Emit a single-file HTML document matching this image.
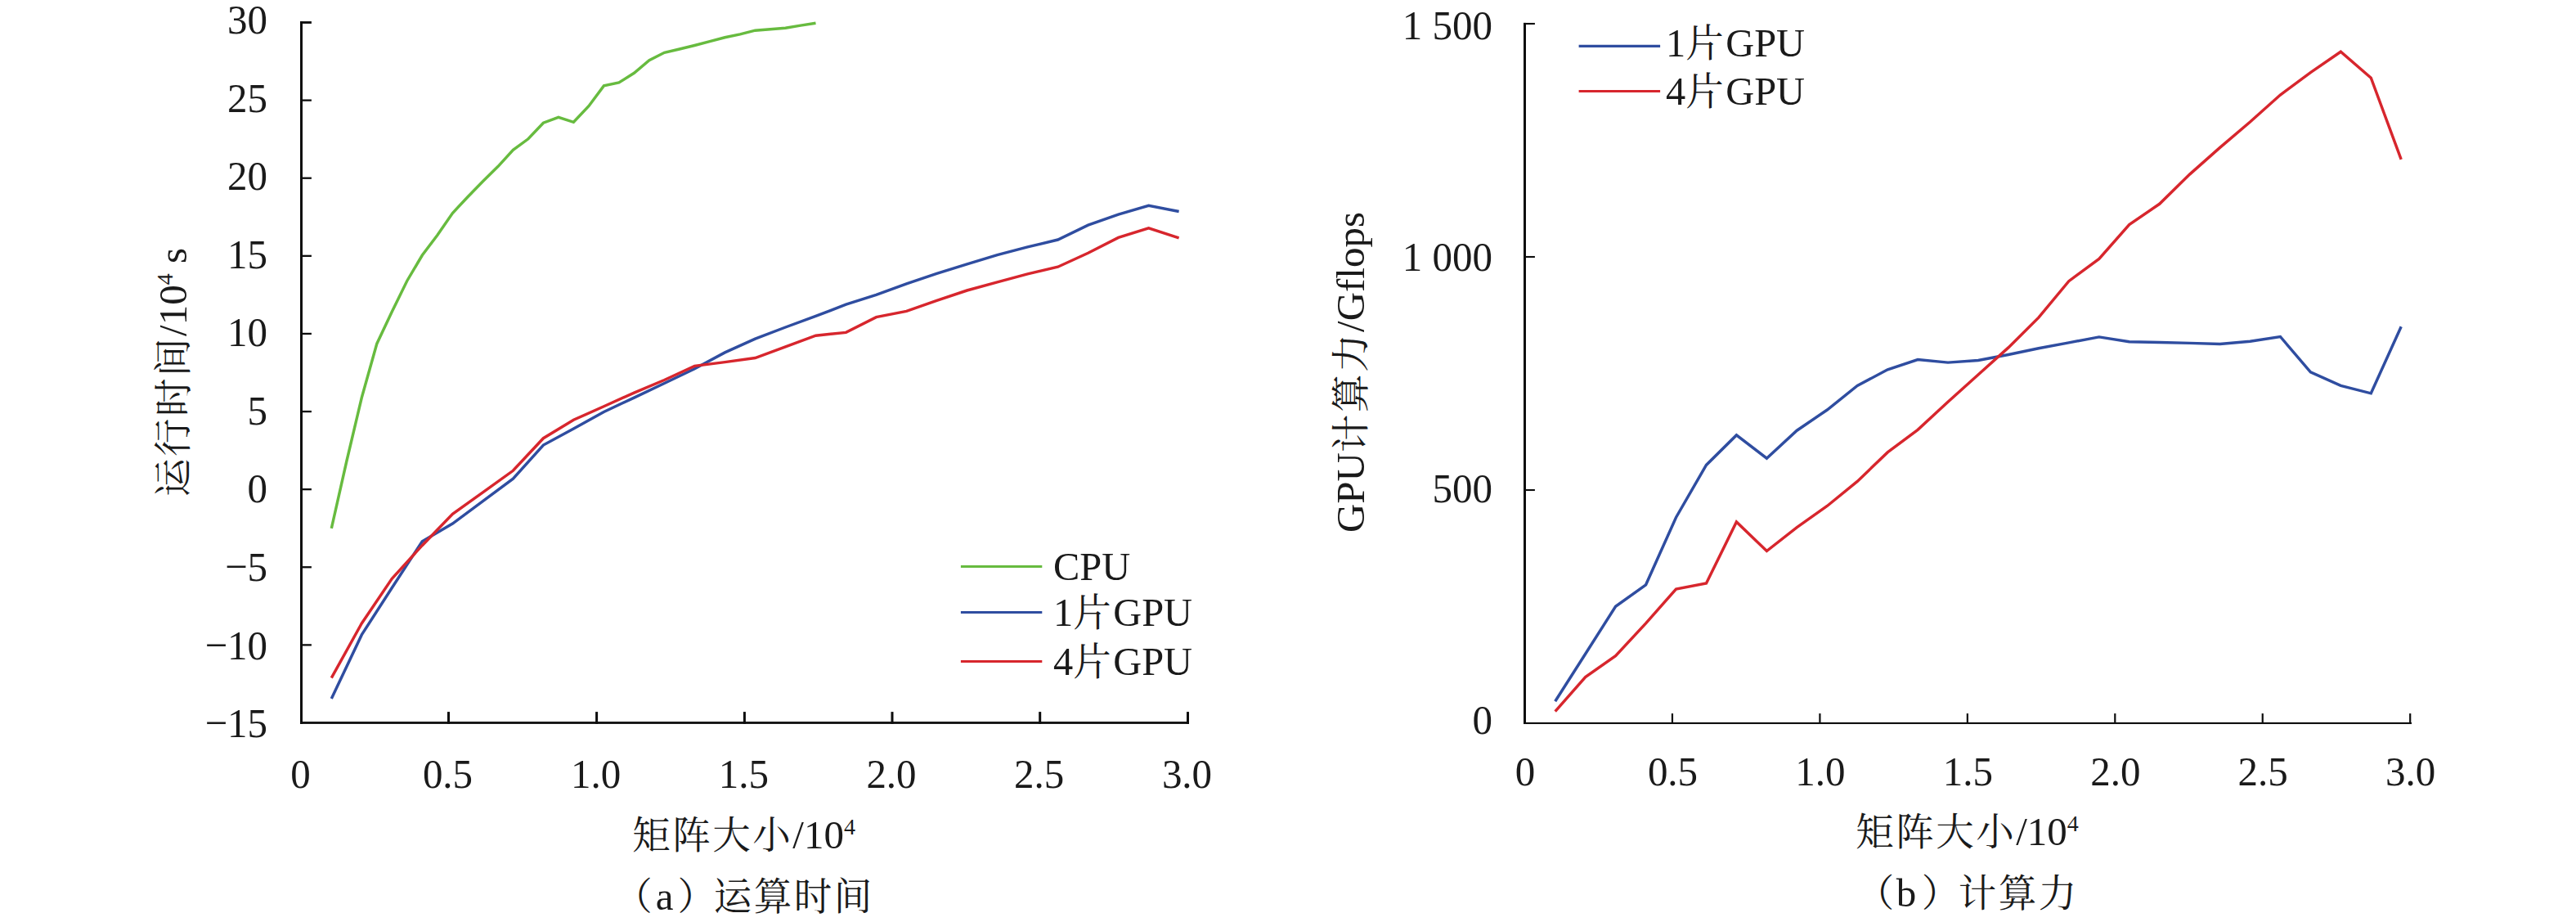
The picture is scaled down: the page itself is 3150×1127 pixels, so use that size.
<!DOCTYPE html>
<html lang="zh-CN">
<head>
<meta charset="utf-8">
<title>GPU 运算时间与计算力</title>
<style>
html,body{margin:0;padding:0;background:#fff;}
body{width:3150px;height:1127px;overflow:hidden;}
svg{display:block;}
text{font-family:"Liberation Serif", "Noto Serif CJK SC", serif;font-size:49px;fill:#1a1a1a;}
.sup{font-size:28px;}
.lg{font-size:48.4px;}
.c{font-size:46.5px;letter-spacing:2.5px;}
</style>
</head>
<body>
<svg width="3150" height="1127" viewBox="0 0 3150 1127">
<rect x="0" y="0" width="3150" height="1127" fill="#ffffff"/>
<!-- left chart axes -->
<rect x="367.00" y="26.06" width="3.00" height="858.84" fill="#0d0d0d"/>
<rect x="367.00" y="882.10" width="1087.00" height="2.80" fill="#0d0d0d"/>
<rect x="367.00" y="26.06" width="13.90" height="2.84" fill="#0d0d0d"/>
<text transform="translate(327.0,40.9) scale(1,1.05)" text-anchor="end">30</text>
<rect x="367.00" y="121.46" width="13.90" height="2.30" fill="#0d0d0d"/>
<text transform="translate(327.0,136.5) scale(1,1.05)" text-anchor="end">25</text>
<rect x="367.00" y="216.57" width="13.90" height="2.30" fill="#0d0d0d"/>
<text transform="translate(327.0,232.1) scale(1,1.05)" text-anchor="end">20</text>
<rect x="367.00" y="311.68" width="13.90" height="2.30" fill="#0d0d0d"/>
<text transform="translate(327.0,327.7) scale(1,1.05)" text-anchor="end">15</text>
<rect x="367.00" y="406.79" width="13.90" height="2.30" fill="#0d0d0d"/>
<text transform="translate(327.0,423.3) scale(1,1.05)" text-anchor="end">10</text>
<rect x="367.00" y="501.90" width="13.90" height="2.30" fill="#0d0d0d"/>
<text transform="translate(327.0,518.9) scale(1,1.05)" text-anchor="end">5</text>
<rect x="367.00" y="597.01" width="13.90" height="2.30" fill="#0d0d0d"/>
<text transform="translate(327.0,614.4) scale(1,1.05)" text-anchor="end">0</text>
<rect x="367.00" y="692.12" width="13.90" height="2.30" fill="#0d0d0d"/>
<text transform="translate(327.0,710.0) scale(1,1.05)" text-anchor="end">−5</text>
<rect x="367.00" y="787.23" width="13.90" height="2.30" fill="#0d0d0d"/>
<text transform="translate(327.0,805.6) scale(1,1.05)" text-anchor="end">−10</text>
<text transform="translate(327.0,901.2) scale(1,1.05)" text-anchor="end">−15</text>
<text transform="translate(367.5,963.0) scale(1,1.05)" text-anchor="middle">0</text>
<rect x="547.00" y="870.10" width="3.00" height="14.80" fill="#0d0d0d"/>
<text transform="translate(547.5,963.0) scale(1,1.05)" text-anchor="middle">0.5</text>
<rect x="728.10" y="870.10" width="3.00" height="14.80" fill="#0d0d0d"/>
<text transform="translate(728.6,963.0) scale(1,1.05)" text-anchor="middle">1.0</text>
<rect x="908.90" y="870.10" width="3.00" height="14.80" fill="#0d0d0d"/>
<text transform="translate(909.4,963.0) scale(1,1.05)" text-anchor="middle">1.5</text>
<rect x="1089.50" y="870.10" width="3.00" height="14.80" fill="#0d0d0d"/>
<text transform="translate(1090.0,963.0) scale(1,1.05)" text-anchor="middle">2.0</text>
<rect x="1270.20" y="870.10" width="3.00" height="14.80" fill="#0d0d0d"/>
<text transform="translate(1270.7,963.0) scale(1,1.05)" text-anchor="middle">2.5</text>
<rect x="1451.00" y="870.10" width="3.00" height="14.80" fill="#0d0d0d"/>
<text transform="translate(1451.5,963.0) scale(1,1.05)" text-anchor="middle">3.0</text>
<text x="909.6" y="1037.3" text-anchor="middle"><tspan class="c">矩阵大小</tspan>/10<tspan class="sup" dy="-17.3">4</tspan></text>
<text x="909.2" y="1112" text-anchor="middle"><tspan class="c" dx="0.8">（</tspan><tspan dx="1.5">a</tspan><tspan class="c" dx="5">）</tspan><tspan class="c" dx="-4.8">运算时间</tspan></text>
<text transform="translate(228.4,455) rotate(-90)" text-anchor="middle"><tspan class="c">运行时间</tspan>/10<tspan class="sup" dy="-17.3">4</tspan><tspan dy="17.3"> s</tspan></text>
<polyline points="405.3,645.8 423.8,564.0 442.3,486.0 460.8,420.2 479.3,380.9 497.8,343.2 516.3,312.0 534.8,287.6 553.4,260.5 571.9,240.7 590.4,221.7 608.9,203.6 627.4,183.3 645.9,169.8 664.4,150.2 682.9,143.4 701.4,149.3 719.9,129.7 738.4,104.9 756.9,101.0 775.4,89.3 793.9,73.7 812.4,64.3 830.9,60.0 849.4,55.5 867.9,50.6 886.4,45.8 905.0,41.9 923.5,37.2 942.0,35.8 960.5,34.2 979.0,31.1 997.5,28.2" fill="none" stroke="#67BB3F" stroke-width="3.45" stroke-linejoin="miter" stroke-linecap="butt"/>
<polyline points="405.3,854.1 442.3,775.9 479.3,718.5 516.3,661.7 553.4,640.1 590.4,612.7 627.4,585.2 664.4,544.1 701.4,524.0 738.4,503.5 775.4,486.1 812.4,468.5 849.4,450.8 886.4,430.9 923.5,414.1 960.5,400.0 997.5,386.4 1034.5,372.2 1071.5,360.4 1108.5,346.8 1145.5,334.4 1182.5,322.9 1219.5,311.6 1256.6,301.9 1293.6,293.0 1330.6,275.2 1367.6,262.1 1404.6,251.3 1441.6,258.5" fill="none" stroke="#2F4DA0" stroke-width="3.45" stroke-linejoin="miter" stroke-linecap="butt"/>
<polyline points="405.3,828.7 442.3,762.0 479.3,707.3 516.3,666.7 553.4,628.3 590.4,601.8 627.4,575.3 664.4,535.7 701.4,513.3 738.4,496.7 775.4,480.1 812.4,464.5 849.4,447.4 886.4,442.6 923.5,437.5 960.5,423.9 997.5,410.2 1034.5,406.4 1071.5,387.6 1108.5,380.4 1145.5,367.4 1182.5,355.0 1219.5,344.8 1256.6,334.8 1293.6,326.2 1330.6,309.2 1367.6,290.4 1404.6,278.9 1441.6,290.8" fill="none" stroke="#D7262D" stroke-width="3.45" stroke-linejoin="miter" stroke-linecap="butt"/>
<path d="M1174.9 692.5 H1274.3" stroke="#67BB3F" stroke-width="3.2" fill="none"/>
<text class="lg" x="1288" y="708.8">CPU</text>
<path d="M1174.9 748.5 H1274.3" stroke="#2F4DA0" stroke-width="3.2" fill="none"/>
<text class="lg" x="1288" y="764.8">1<tspan class="c">片</tspan>GPU</text>
<path d="M1174.9 808.5 H1274.3" stroke="#D7262D" stroke-width="3.2" fill="none"/>
<text class="lg" x="1288" y="824.8">4<tspan class="c">片</tspan>GPU</text>
<!-- right chart axes -->
<rect x="1863.00" y="27.90" width="3.00" height="857.10" fill="#0d0d0d"/>
<rect x="1863.00" y="882.95" width="1086.00" height="2.10" fill="#0d0d0d"/>
<rect x="1863.00" y="27.95" width="13.90" height="2.10" fill="#0d0d0d"/>
<text transform="translate(1825.0,47.8) scale(1,1.05)" text-anchor="end">1 500</text>
<rect x="1863.00" y="312.95" width="13.90" height="2.10" fill="#0d0d0d"/>
<text transform="translate(1825.0,330.7) scale(1,1.05)" text-anchor="end">1 000</text>
<rect x="1863.00" y="597.95" width="13.90" height="2.10" fill="#0d0d0d"/>
<text transform="translate(1825.0,613.6) scale(1,1.05)" text-anchor="end">500</text>
<text transform="translate(1825.0,896.5) scale(1,1.05)" text-anchor="end">0</text>
<text transform="translate(1865.0,960.3) scale(1,1.05)" text-anchor="middle">0</text>
<rect x="2043.85" y="872.10" width="2.20" height="12.90" fill="#0d0d0d"/>
<text transform="translate(2045.5,960.3) scale(1,1.05)" text-anchor="middle">0.5</text>
<rect x="2224.30" y="872.10" width="2.20" height="12.90" fill="#0d0d0d"/>
<text transform="translate(2225.9,960.3) scale(1,1.05)" text-anchor="middle">1.0</text>
<rect x="2404.75" y="872.10" width="2.20" height="12.90" fill="#0d0d0d"/>
<text transform="translate(2406.3,960.3) scale(1,1.05)" text-anchor="middle">1.5</text>
<rect x="2585.20" y="872.10" width="2.20" height="12.90" fill="#0d0d0d"/>
<text transform="translate(2586.8,960.3) scale(1,1.05)" text-anchor="middle">2.0</text>
<rect x="2765.65" y="872.10" width="2.20" height="12.90" fill="#0d0d0d"/>
<text transform="translate(2767.2,960.3) scale(1,1.05)" text-anchor="middle">2.5</text>
<rect x="2946.10" y="872.10" width="2.20" height="12.90" fill="#0d0d0d"/>
<text transform="translate(2947.7,960.3) scale(1,1.05)" text-anchor="middle">3.0</text>
<text x="2405.5" y="1032.8" text-anchor="middle"><tspan class="c">矩阵大小</tspan>/10<tspan class="sup" dy="-17.3">4</tspan></text>
<text x="2405.7" y="1108.3" text-anchor="middle"><tspan class="c">（</tspan>b<tspan class="c" dx="6.5">）</tspan><tspan class="c" dx="-4">计算力</tspan></text>
<text transform="translate(1668,455) rotate(-90)" text-anchor="middle">GPU<tspan class="c">计算力</tspan>/Gflops</text>
<polyline points="1901.7,857.3 1938.7,799.2 1975.6,741.3 2012.6,714.8 2049.5,632.5 2086.5,568.4 2123.4,531.9 2160.4,560.2 2197.3,526.2 2234.3,501.0 2271.2,471.5 2308.2,451.8 2345.1,439.6 2382.0,443.1 2419.0,440.5 2455.9,433.5 2492.9,425.7 2529.8,418.9 2566.8,411.9 2603.7,417.8 2640.7,418.5 2677.6,419.4 2714.6,420.5 2751.5,417.3 2788.4,411.5 2825.4,454.9 2862.3,471.4 2899.3,480.8 2936.2,399.3" fill="none" stroke="#2F4DA0" stroke-width="3.45" stroke-linejoin="miter" stroke-linecap="butt"/>
<polyline points="1901.7,869.7 1938.7,827.6 1975.6,801.6 2012.6,761.9 2049.5,720.0 2086.5,713.0 2123.4,637.9 2160.4,673.5 2197.3,644.6 2234.3,618.5 2271.2,588.4 2308.2,552.9 2345.1,525.3 2382.0,491.3 2419.0,458.0 2455.9,424.9 2492.9,388.1 2529.8,343.7 2566.8,316.4 2603.7,274.5 2640.7,249.3 2677.6,213.1 2714.6,180.4 2751.5,149.0 2788.4,116.0 2825.4,88.7 2862.3,63.3 2899.3,95.2 2936.2,194.9" fill="none" stroke="#D7262D" stroke-width="3.45" stroke-linejoin="miter" stroke-linecap="butt"/>
<path d="M1930.6 56.4 H2030.1" stroke="#2F4DA0" stroke-width="3.2" fill="none"/>
<text class="lg" x="2037" y="69.4">1<tspan class="c">片</tspan>GPU</text>
<path d="M1930.6 111.5 H2030.1" stroke="#D7262D" stroke-width="3.2" fill="none"/>
<text class="lg" x="2037" y="127.5">4<tspan class="c">片</tspan>GPU</text>
</svg>
</body>
</html>
